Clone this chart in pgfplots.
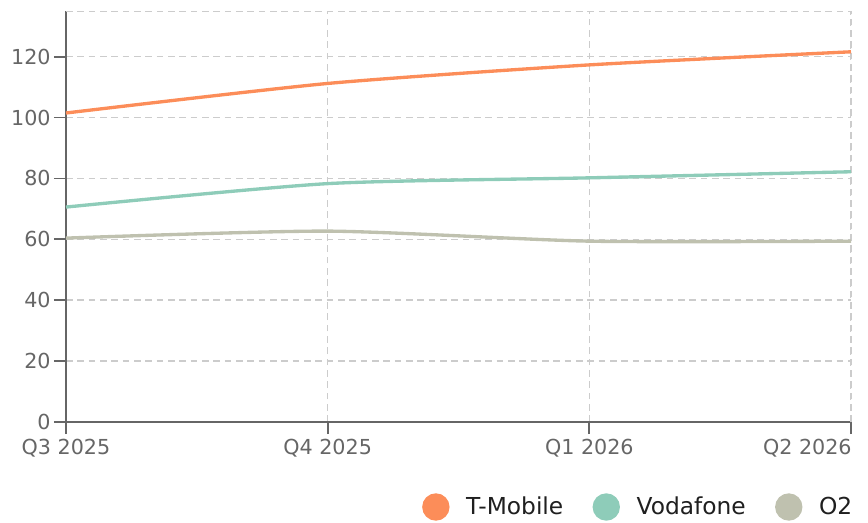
\documentclass[border=0pt]{standalone}
\usepackage{pgfplots}
\pgfplotsset{compat=1.18}
\usepackage{fontspec}
\setmainfont{DejaVu Sans}
\definecolor{tmob}{HTML}{FC8D59}
\definecolor{voda}{HTML}{8ECCB9}
\definecolor{otwo}{HTML}{BFC1AF}
\definecolor{axisgray}{HTML}{666666}
\definecolor{gridgray}{HTML}{CCCCCC}
\definecolor{labelgray}{HTML}{666666}
\begin{document}
\begin{tikzpicture}
\begin{axis}[name=ax, scale only axis, width=588.75pt, height=308.25pt,
  xmin=0, xmax=3, ymin=0, ymax=135,
  xtick={0,1,2}, xticklabels={Q3 2025,Q4 2025,Q1 2026},
  extra x ticks={3}, extra x tick labels={Q2 2026},
  extra x tick style={xticklabel style={anchor=north east, xshift=4pt}},
  ytick={0,20,...,120},
  axis x line*=bottom, axis y line*=left,
  axis line style={draw=axisgray, line width=1.5pt, -},
  tick style={draw=axisgray, line width=1.3pt}, tick align=outside, major tick length=9pt,
  grid=major, major grid style={draw=gridgray, line width=1.1pt, dash pattern=on 5pt off 3.5pt},
  ticklabel style={font=\fontsize{15.5}{18}\selectfont, text=labelgray},
  yticklabel style={xshift=1pt},
  /pgf/number format/assume math mode=true,
  legend columns=3,
  legend style={at={(1,0)}, anchor=east, yshift=-63.75pt, xshift=3pt, draw=none, fill=none,
    inner sep=0pt, outer sep=0pt,
    font=\fontsize{17.5}{20}\selectfont, text=black!88,
    /tikz/every odd column/.append style={column sep=10.5pt},
    /tikz/every even column/.append style={column sep=20pt}},
  legend image code/.code={\fill (9pt,0) circle (9pt);},
]
\draw[draw=gridgray, line width=1.1pt, dash pattern=on 5pt off 3.5pt] (rel axis cs:0,1) -- (rel axis cs:1,1) -- (rel axis cs:1,0);
\addplot[tmob, line width=2.5pt, smooth, tension=0.4] coordinates {(0,101.5) (1,111.2) (2,117.3) (3,121.6)};
\addlegendentry{T-Mobile}
\addplot[voda, line width=2.5pt, smooth, tension=0.4] coordinates {(0,70.6) (1,78.3) (2,80.2) (3,82.2)};
\addlegendentry{Vodafone}
\addplot[otwo, line width=2.5pt, smooth, tension=0.4] coordinates {(0,60.4) (1,62.7) (2,59.4) (3,59.4)};
\addlegendentry{O2}
\end{axis}
\pgfresetboundingbox
\path[use as bounding box] ([shift={(-49.5pt,-75pt)}]ax.south west) rectangle ([shift={(12.75pt,8.25pt)}]ax.north east);
\end{tikzpicture}
\end{document}
